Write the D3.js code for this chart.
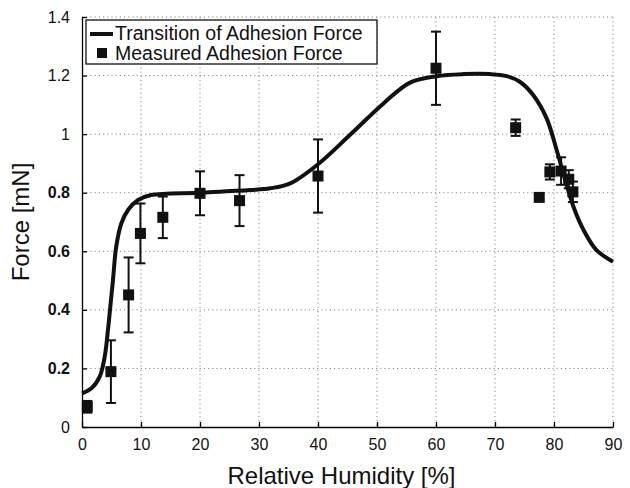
<!doctype html>
<html lang="en">
<head>
  <meta charset="utf-8">
  <style>
    body { margin: 0; background: #fff; }
    svg { display: block; font-family: "Liberation Sans", Arial, Helvetica, sans-serif; }
    .grid line { stroke: #888; stroke-dasharray: 1.2 3; stroke-width: 1; }
    .axis path, .axis line { stroke: #000; stroke-width: 1.3; }
    .axis text { font-size: 16px; fill: #111; }
  </style>
  <script src="https://d3js.org/d3.v7.min.js"></script>
</head>
<body>
  <svg width="630" height="488"></svg>
  <script>
    // measured adhesion force (with +/- error)
    const humidity = [0.9, 4.9, 7.9, 9.9, 13.7, 20, 26.7, 40, 60, 73.5, 77.5, 79.3, 81.2, 82.5, 83.2];
    const force    = [0.069, 0.189, 0.451, 0.661, 0.716, 0.798, 0.773, 0.857, 1.225, 1.022, 0.784, 0.871, 0.874, 0.846, 0.803];
    const forceErr = [0.02, 0.107, 0.128, 0.102, 0.071, 0.075, 0.087, 0.125, 0.125, 0.028, 0, 0.026, 0.047, 0.031, 0.035];

    // transition curve
    const curveRH = [0, 1.6, 3.0, 3.85, 4.4, 4.8, 5.25, 5.8, 6.66, 7.8, 9.5, 11.7, 20, 28.5, 31.9, 35.3, 40.05, 45.4, 51.1, 55.6, 60.1, 64.6, 69.2, 72, 74.2, 76.5, 78.75, 80.45, 81.9, 83.3, 85, 87.2, 90];
    const curveF  = [0.115, 0.132, 0.172, 0.24, 0.331, 0.411, 0.502, 0.616, 0.695, 0.741, 0.775, 0.792, 0.80, 0.809, 0.815, 0.832, 0.898, 0.997, 1.105, 1.176, 1.198, 1.205, 1.205, 1.198, 1.179, 1.133, 1.054, 0.946, 0.843, 0.752, 0.673, 0.604, 0.564];

    const xTicks = [0, 10, 20, 30, 40, 50, 60, 70, 80, 90];
    const yTicks = [0, 0.2, 0.4, 0.6, 0.8, 1, 1.2, 1.4];
    const legendLabels = ["Transition of Adhesion Force", "Measured Adhesion Force"];

    const margin = { top: 17, right: 17, bottom: 61, left: 82 };
    const width = 630 - margin.left - margin.right;
    const height = 488 - margin.top - margin.bottom;

    const svg = d3.select("svg")
      .append("g")
      .attr("transform", `translate(${margin.left}, ${margin.top})`);

    const x = d3.scaleLinear().domain([0, 90]).range([0, width]);
    const y = d3.scaleLinear().domain([0, 1.4]).range([height, 0]);

    // dotted grid
    svg.append("g").attr("class", "grid")
      .selectAll("line").data(xTicks.slice(1)).enter().append("line")
      .attr("x1", d => x(d)).attr("x2", d => x(d))
      .attr("y1", 0).attr("y2", height);
    svg.append("g").attr("class", "grid")
      .selectAll("line").data(yTicks.slice(1)).enter().append("line")
      .attr("x1", 0).attr("x2", width)
      .attr("y1", d => y(d)).attr("y2", d => y(d));

    // axes, ticks pointing inward
    svg.append("g").attr("class", "axis")
      .attr("transform", `translate(0, ${height})`)
      .call(d3.axisBottom(x).tickValues(xTicks).tickSizeInner(-5).tickSizeOuter(0).tickPadding(12).tickFormat(d3.format("d")));
    const yAxis = svg.append("g").attr("class", "axis")
      .call(d3.axisLeft(y).tickValues(yTicks).tickSizeInner(-5).tickSizeOuter(0).tickPadding(12).tickFormat(d => d3.format("")(d)));
    yAxis.selectAll(".tick text")
      .style("font-weight", d => (d > 0 && d < 1) ? "bold" : "normal");

    // transition curve
    const line = d3.line()
      .x((d, i) => x(curveRH[i]))
      .y((d, i) => y(curveF[i]))
      .curve(d3.curveCatmullRom.alpha(0.5));
    svg.append("path")
      .datum(curveF)
      .attr("fill", "none")
      .attr("stroke", "#111")
      .attr("stroke-width", 4)
      .attr("d", line);

    // error bars
    const pts = humidity.map((h, i) => ({ h: h, f: force[i], e: forceErr[i] }));
    const eb = svg.append("g").attr("stroke", "#111").attr("stroke-width", 2);
    pts.filter(d => d.e > 0).forEach(d => {
      eb.append("line").attr("x1", x(d.h)).attr("x2", x(d.h))
        .attr("y1", y(d.f - d.e)).attr("y2", y(d.f + d.e));
      [d.f - d.e, d.f + d.e].forEach(v => {
        eb.append("line").attr("x1", x(d.h) - 5).attr("x2", x(d.h) + 5)
          .attr("y1", y(v)).attr("y2", y(v));
      });
    });

    // markers
    svg.selectAll(".pt").data(pts).enter().append("rect")
      .attr("class", "pt")
      .attr("x", d => x(d.h) - 5.5)
      .attr("y", d => y(d.f) - 5.5)
      .attr("width", 11).attr("height", 11)
      .attr("fill", "#111");

    // legend
    const lg = svg.append("g").attr("transform", "translate(4, 3)");
    lg.append("rect").attr("width", 291).attr("height", 44)
      .attr("fill", "#fff").attr("stroke", "#111").attr("stroke-width", 1.3);
    lg.append("line").attr("x1", 4).attr("x2", 27).attr("y1", 14).attr("y2", 14)
      .attr("stroke", "#111").attr("stroke-width", 4);
    lg.append("rect").attr("x", 11).attr("y", 28).attr("width", 10).attr("height", 10).attr("fill", "#111");
    lg.selectAll(".lgt").data(legendLabels).enter().append("text")
      .attr("class", "lgt")
      .attr("x", 29).attr("y", (d, i) => 20 + i * 19.5)
      .attr("font-size", "19.5px")
      .attr("fill", "#111")
      .text(d => d);

    // axis labels
    svg.append("text")
      .attr("x", width / 2 - 6).attr("y", height + 57)
      .attr("text-anchor", "middle")
      .attr("font-size", "24px").attr("fill", "#111")
      .text("Relative Humidity [%]");
    svg.append("text")
      .attr("transform", "rotate(-90)")
      .attr("x", -height / 2).attr("y", -53)
      .attr("text-anchor", "middle")
      .attr("font-size", "24px").attr("fill", "#111")
      .text("Force [mN]");
  </script>
</body>
</html>
